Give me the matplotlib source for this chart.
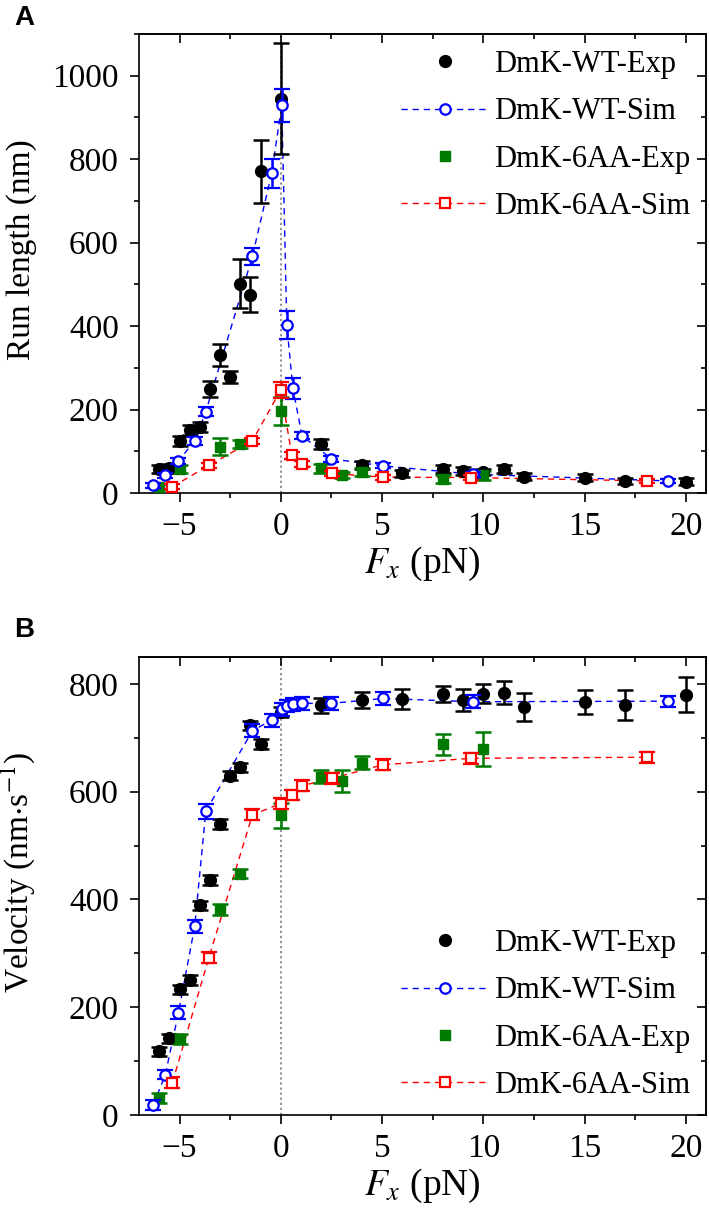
import matplotlib
matplotlib.use('Agg')
import matplotlib.pyplot as plt
from matplotlib.lines import Line2D
from matplotlib.ticker import MultipleLocator

plt.rcParams['font.family'] = ['Liberation Serif', 'DejaVu Serif']
plt.rcParams['mathtext.fontset'] = 'stix'

# ---------------- Data ----------------
# Panel A : run length (nm)
wt_exp_x = [-6.0, -5.5, -5.0, -4.5, -4.0, -3.5, -3.0, -2.5, -2.0, -1.5, -1.0, 0.0,
            2.0, 4.0, 6.0, 8.0, 9.0, 10.0, 11.0, 12.0, 15.0, 17.0, 20.0]
wt_exp_run = [57, 59, 125, 151, 157, 249, 331, 278, 502, 475, 771, 945,
              117, 67, 47, 57, 53, 50, 57, 39, 37, 29, 27]
wt_exp_run_err = [10, 10, 12, 12, 12, 20, 27, 15, 58, 42, 75, 133,
                  12, 10, 8, 10, 10, 8, 10, 8, 8, 8, 8]

wt_sim_x = [-6.3, -5.7, -5.05, -4.25, -3.7, -1.4, -0.45, 0.05, 0.3, 0.6, 1.05, 2.5, 5.05, 9.5, 19.1]
wt_sim_run = [19, 42, 77, 125, 195, 567, 766, 929, 402, 251, 137, 82, 65, 45, 29]
wt_sim_run_err = [6, 6, 8, 10, 10, 20, 35, 40, 33, 25, 8, 7, 6, 6, 5]

aa_exp_x = [-6.0, -5.0, -3.0, -2.0, 0.0, 2.0, 3.0, 4.0, 8.0, 10.0]
aa_exp_run = [15, 57, 111, 117, 197, 59, 43, 51, 34, 42]
aa_exp_run_err = [6, 10, 20, 10, 33, 10, 8, 10, 10, 10]

aa_sim_x = [-5.35, -3.55, -1.4, 0.0, 0.55, 1.05, 2.55, 5.05, 9.4, 18.1]
aa_sim_run = [15, 66, 125, 247, 90, 69, 47, 38, 37, 29]
aa_sim_run_err = [6, 6, 8, 20, 8, 7, 6, 6, 5, 5]

# Panel B : velocity (nm/s)
wt_exp_vel = [118, 142, 233, 250, 389, 436, 540, 630, 645, 723, 688, 748,
              760, 770, 772, 782, 770, 782, 784, 758, 767, 761, 780]
wt_exp_vel_err = [9, 9, 9, 9, 9, 9, 9, 9, 9, 9, 9, 10,
                  14, 15, 18, 15, 21, 17, 21, 26, 22, 28, 32]

wt_sim_vel = [18, 75, 190, 350, 564, 713, 733, 753, 759, 762, 764, 764, 773, 767, 768]
wt_sim_vel_err = [9, 9, 12, 12, 14, 12, 12, 12, 12, 12, 12, 12, 12, 12, 10]

aa_exp_vel = [31, 141, 381, 448, 556, 628, 620, 654, 688, 679]
aa_exp_vel_err = [9, 10, 10, 8, 23, 12, 20, 12, 19, 32]

aa_sim_vel = [60, 292, 557, 578, 594, 611, 625, 650, 662, 664]
aa_sim_vel_err = [10, 10, 10, 10, 10, 10, 10, 10, 10, 10]

labels = ['DmK-WT-Exp', 'DmK-WT-Sim', 'DmK-6AA-Exp', 'DmK-6AA-Sim']

# ---------------- Styles ----------------
BLACK = 'black'
BLUE = '#0000ff'
GREEN = '#007a00'
RED = '#ff0000'
TICK_FS = 24
LABEL_FS = 24
XLABEL_FS = 27
LEG_FS = 22

fig = plt.figure(figsize=(7.09, 12.28), dpi=100)
W, H = 709.0, 1228.0


def fx(px):
    return px / W


def fy(py):
    return 1 - py / H


axA = fig.add_axes([fx(139), fy(493), fx(706) - fx(139), fy(34) - fy(493)])
axB = fig.add_axes([fx(139), fy(1115), fx(706) - fx(139), fy(657) - fy(1115)])

eb_kw = dict(capsize=5.5, elinewidth=1.8, capthick=1.8)


def draw(ax, y_wt_exp, e_wt_exp, y_wt_sim, e_wt_sim, y_aa_exp, e_aa_exp, y_aa_sim, e_aa_sim):
    ax.axvline(0, color='#888888', ls=(0, (1.2, 1.6)), lw=1.3, zorder=0)
    ax.errorbar(wt_exp_x, y_wt_exp, yerr=e_wt_exp, fmt='o', color=BLACK, ms=8.5, zorder=3, **eb_kw)
    ax.errorbar(wt_sim_x, y_wt_sim, yerr=e_wt_sim, fmt='o', color=BLUE, ms=7.5,
                mfc='white', mec=BLUE, mew=1.6, zorder=4, **eb_kw)
    ax.plot(wt_sim_x, y_wt_sim, color=BLUE, lw=1.0, dashes=(4.5, 3.5), zorder=2)
    ax.errorbar(aa_exp_x, y_aa_exp, yerr=e_aa_exp, fmt='s', color=GREEN, ms=7.5, zorder=3, **eb_kw)
    ax.errorbar(aa_sim_x, y_aa_sim, yerr=e_aa_sim, fmt='s', color=RED, ms=6.5,
                mfc='white', mec=RED, mew=1.6, zorder=4, **eb_kw)
    ax.plot(aa_sim_x, y_aa_sim, color=RED, lw=1.0, dashes=(4.5, 3.5), zorder=2)

    ax.set_xlim(-7, 21)
    ax.set_xticks([-5, 0, 5, 10, 15, 20])
    ax.xaxis.set_minor_locator(MultipleLocator(2.5))
    ax.yaxis.set_major_locator(MultipleLocator(200))
    ax.yaxis.set_minor_locator(MultipleLocator(100))
    for s in ax.spines.values():
        s.set_linewidth(1.2)
    ax.tick_params(which='major', direction='out', length=6.5, width=1.2, labelsize=TICK_FS, pad=7)
    ax.tick_params(axis='y', which='major', pad=8)
    ax.tick_params(which='minor', direction='out', length=3.8, width=1.2)
    ax.set_xlabel(r'$F_x$ (pN)', fontsize=XLABEL_FS, labelpad=2)

    top = ax.secondary_xaxis('top')
    top.set_xticks([-5, 0, 5, 10, 15, 20])
    top.xaxis.set_minor_locator(MultipleLocator(2.5))
    top.tick_params(which='major', direction='in', length=6.5, width=1.2, labeltop=False)
    top.tick_params(which='minor', direction='in', length=3.8, width=1.2)
    right = ax.secondary_yaxis('right')
    right.yaxis.set_major_locator(MultipleLocator(200))
    right.yaxis.set_minor_locator(MultipleLocator(100))
    right.tick_params(which='major', direction='in', length=6.5, width=1.2, labelright=False)
    right.tick_params(which='minor', direction='in', length=3.8, width=1.2)
    for s in list(top.spines.values()) + list(right.spines.values()):
        s.set_linewidth(1.2)


draw(axA, wt_exp_run, wt_exp_run_err, wt_sim_run, wt_sim_run_err,
     aa_exp_run, aa_exp_run_err, aa_sim_run, aa_sim_run_err)
axA.set_ylim(0, 1100)
axA.set_ylabel('Run length (nm)', fontsize=LABEL_FS)
axA.yaxis.set_label_coords(-0.18, 0.53)

draw(axB, wt_exp_vel, wt_exp_vel_err, wt_sim_vel, wt_sim_vel_err,
     aa_exp_vel, aa_exp_vel_err, aa_sim_vel, aa_sim_vel_err)
axB.set_ylim(0, 850)
axB.set_ylabel(r'Velocity (nm$\cdot$s$^{-1}$)', fontsize=LABEL_FS)
axB.yaxis.set_label_coords(-0.18, 0.53)

handles = [
    Line2D([], [], ls='none', marker='o', color=BLACK, ms=8.5),
    Line2D([], [], color=BLUE, lw=1.0, dashes=(4.5, 3.5), marker='o', ms=7.5, mfc='white', mec=BLUE, mew=1.6),
    Line2D([], [], ls='none', marker='s', color=GREEN, ms=7.5),
    Line2D([], [], color=RED, lw=1.0, dashes=(4.5, 3.5), marker='s', ms=6.5, mfc='white', mec=RED, mew=1.6),
]

leg_kw = dict(frameon=False, fontsize=LEG_FS, handlelength=2.85, handletextpad=0.2,
              labelspacing=0.6, borderpad=0, borderaxespad=0, loc='upper left')
axA.legend(handles, labels, bbox_to_anchor=(fx(401), fy(50)), bbox_transform=fig.transFigure, **leg_kw)
axB.legend(handles, labels, bbox_to_anchor=(fx(401), fy(929)), bbox_transform=fig.transFigure, **leg_kw)

fig.text(fx(14), fy(5), 'A', ha='left', va='top', fontsize=20, fontweight='bold',
         family=['Liberation Sans', 'DejaVu Sans'])
fig.text(fx(14), fy(617), 'B', ha='left', va='top', fontsize=20, fontweight='bold',
         family=['Liberation Sans', 'DejaVu Sans'])

fig.savefig('out.png', dpi=100)
